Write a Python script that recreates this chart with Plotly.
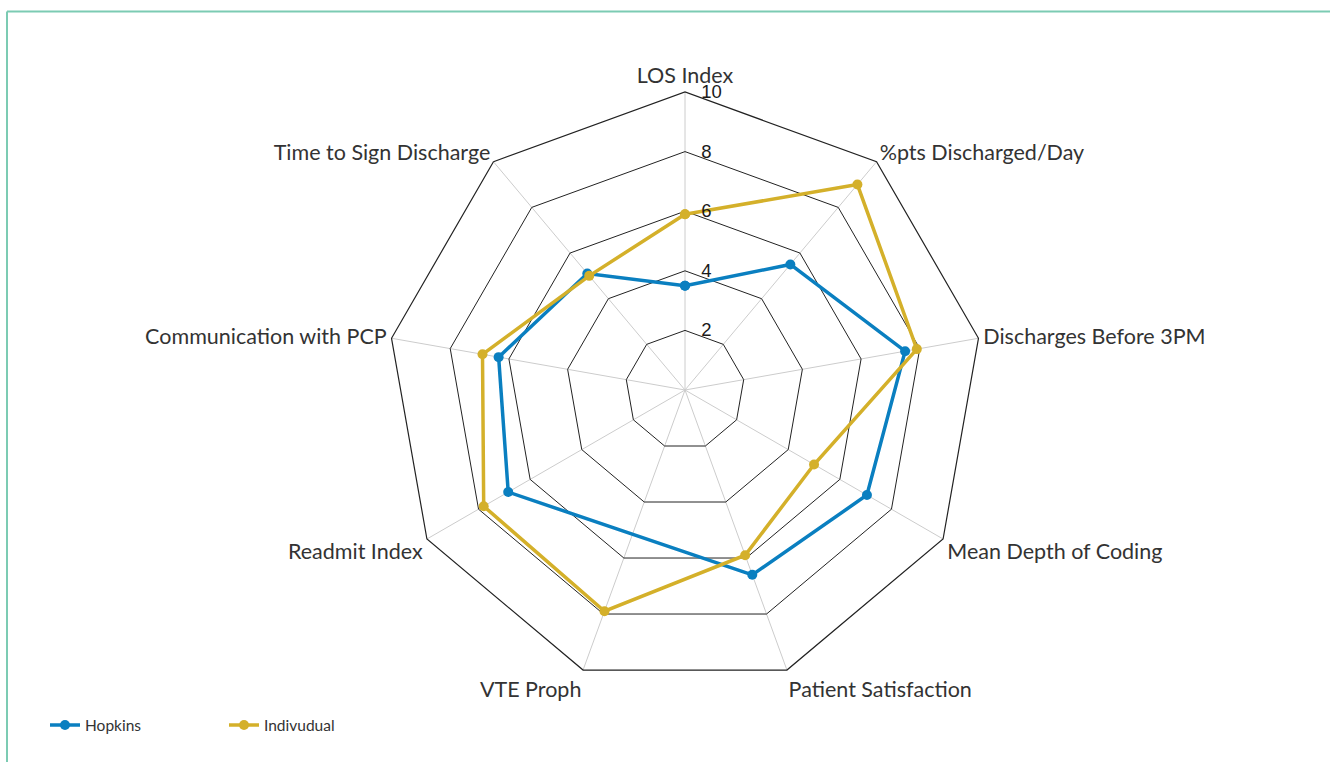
import plotly.graph_objects as go

categories = ["LOS Index", "%pts Discharged/Day", "Discharges Before 3PM",
              "Mean Depth of Coding", "Patient Satisfaction", "VTE Proph",
              "Readmit Index", "Communication with PCP", "Time to Sign Discharge"]
hopkins = [3.5, 5.5, 7.5, 7.05, 6.6, None, 6.85, 6.35, 5.1]
individual = [5.9, 9.0, 7.9, 5.0, 5.9, 7.9, 7.8, 6.9, 5.0]
radial_ticks = [2, 4, 6, 8, 10]

W, H = 1330, 762
cx, cy, R = 685, 390, 298

fig = go.Figure()
fig.add_trace(go.Scatterpolar(
    r=hopkins + hopkins[:1], theta=categories + categories[:1],
    name="Hopkins", mode="lines+markers", connectgaps=True,
    line=dict(color="#0a7fc0", width=3.5), marker=dict(size=10, color="#0a7fc0")))
fig.add_trace(go.Scatterpolar(
    r=individual + individual[:1], theta=categories + categories[:1],
    name="Indivudual", mode="lines+markers", connectgaps=True,
    line=dict(color="#d4b02a", width=3.5), marker=dict(size=10, color="#d4b02a")))

fig.update_layout(
    width=W, height=H,
    margin=dict(l=0, r=0, t=0, b=0),
    paper_bgcolor="white", plot_bgcolor="white",
    font=dict(family="Lato, sans-serif", color="#333333"),
    polar=dict(
        domain=dict(x=[(cx - R) / W, (cx + R) / W],
                    y=[(H - cy - R) / H, (H - cy + R) / H]),
        bgcolor="white",
        gridshape="linear",
        radialaxis=dict(range=[0, 10], tickvals=radial_ticks,
                        angle=90, tickangle=90, side="clockwise",
                        showline=False, ticks="outside", ticklen=12,
                        tickcolor="rgba(0,0,0,0)",
                        gridcolor="#222222", gridwidth=1,
                        tickfont=dict(family="Liberation Sans, Arial", size=18.5, color="#1a1a1a")),
        angularaxis=dict(rotation=90, direction="clockwise",
                         categoryorder="array", categoryarray=categories,
                         gridcolor="#cccccc", gridwidth=1,
                         showline=True, linecolor="#222222", linewidth=1.2,
                         ticks="",
                         tickfont=dict(family="Lato, sans-serif", size=21.5, color="#333333")),
    ),
    showlegend=True,
    legend=dict(orientation="h", x=45 / W, y=0.048, xanchor="left", yanchor="middle",
                font=dict(family="Lato, sans-serif", size=15.5, color="#333333"),
                entrywidth=134, entrywidthmode="pixels", bgcolor="rgba(0,0,0,0)"),
    shapes=[
        dict(type="line", xref="paper", yref="paper", x0=7 / W, x1=1, y0=1 - 11.5 / H, y1=1 - 11.5 / H,
             line=dict(color="#7ccbb3", width=2)),
        dict(type="line", xref="paper", yref="paper", x0=7 / W, x1=7 / W, y0=0, y1=1 - 11.5 / H,
             line=dict(color="#7ccbb3", width=2)),
    ],
)

fig.write_html("out.html", config={"displayModeBar": False},
               post_script="document.body.style.margin='0';document.body.style.overflow='hidden';")
